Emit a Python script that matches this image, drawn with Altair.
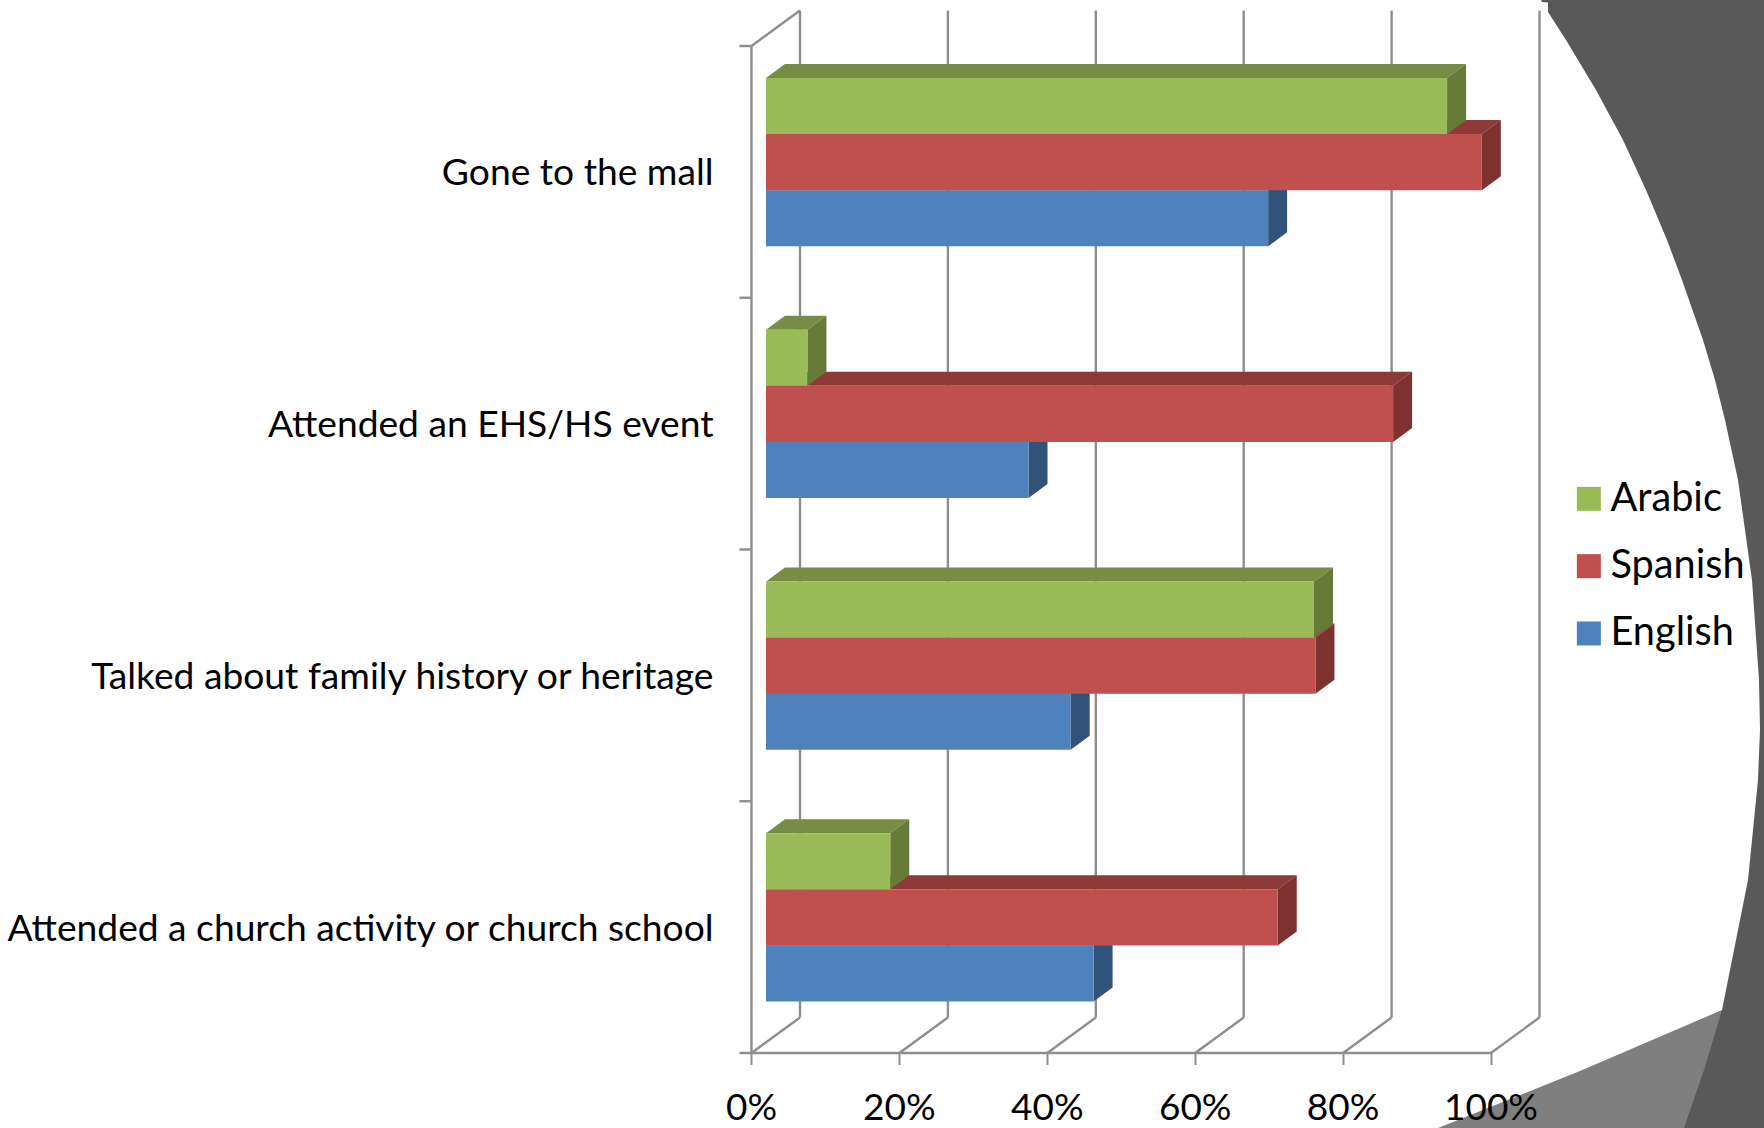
import json
import altair as alt
import pandas as pd

categories = [
    "Gone to the mall",
    "Attended an EHS/HS event",
    "Talked about family history or heritage",
    "Attended a church activity or church school",
]
arabic = [92.1, 5.6, 74.1, 16.8]
spanish = [96.8, 84.8, 74.3, 69.2]
english = [67.9, 35.5, 41.2, 44.3]
series_names = ["Arabic", "Spanish", "English"]
series_values = {"Arabic": arabic, "Spanish": spanish, "English": english}
front_colors = ["#9BBB59", "#C0504D", "#4F81BD"]
top_colors = {"Arabic": "#778D45", "Spanish": "#8E3A38", "English": "#3A5E8C"}
side_colors = {"Arabic": "#677B38", "Spanish": "#7E3230", "English": "#325379"}
x_ticks = [0, 20, 40, 60, 80, 100]

# Outline of the slide's dark side panel and lighter wedge, in canvas pixels.
panel_y = [0, 2, 2.5, 12, 40, 90, 140, 190, 240, 280, 340, 380, 420, 480, 580, 680, 730, 780, 880, 1010, 1070, 1128]
panel_x = [1541, 1542, 1548, 1548, 1566, 1596, 1623, 1646, 1667, 1682, 1703, 1715, 1725, 1738, 1752, 1759, 1760, 1758, 1748, 1722, 1704, 1684]
wedge_x = [1438, 1580, 1722, 1764]
wedge_y = [1128, 1071, 1010, 992]

CANVAS_W, CANVAS_H = 1764, 1128
LEFT, TOP = 751.5, 46.0
PLOT_W, PLOT_H = 739.5, 1007.0
PX_PER_PCT = PLOT_W / 100
PX_PER_BAND = PLOT_H / 4


def to_x(px):
    return (px - LEFT) / PX_PER_PCT


def to_y(py):
    return (py - TOP) / PX_PER_BAND


# Oblique projection used for the 3-D look, in data units.
WALL_DX, WALL_DY = 48.5 / PX_PER_PCT, 35.5 / PX_PER_BAND
BAR_DX, BAR_DY = 19 / PX_PER_PCT, 14 / PX_PER_BAND
BAR_START = 14.5 / PX_PER_PCT
BAR_GAP = 32 / PX_PER_BAND
BAR_H = 56.1 / PX_PER_BAND
TICK = 12 / PX_PER_PCT

front_rows, shade_rows = [], []
# Drawn back to front: English first, Arabic last.
for s_idx, name in reversed(list(enumerate(series_names))):
    for c_idx, value in enumerate(series_values[name]):
        y0 = c_idx + BAR_GAP + s_idx * BAR_H
        y1 = y0 + BAR_H
        x0, x1 = BAR_START, BAR_START + value
        front_rows.append(dict(series=name, x=x0, x2=x1, y=y0, y2=y1))
        face = f"{name}-{c_idx}-top"
        for px, top, bottom in [
            (x0, y0, y0),
            (x0 + BAR_DX, y0 - BAR_DY, y0),
            (x1, y0 - BAR_DY, y0),
            (x1 + BAR_DX, y0 - BAR_DY, y0 - BAR_DY),
        ]:
            shade_rows.append(dict(face=face, shade=top_colors[name], x=px, y=top, y2=bottom))
        face = f"{name}-{c_idx}-side"
        for px, top, bottom in [
            (x1, y0, y1),
            (x1 + BAR_DX, y0 - BAR_DY, y1 - BAR_DY),
        ]:
            shade_rows.append(dict(face=face, shade=side_colors[name], x=px, y=top, y2=bottom))

rule_rows = []
for t in x_ticks:
    # back-wall gridline and its run across the floor
    rule_rows.append(dict(x=t + WALL_DX, x2=t + WALL_DX, y=-WALL_DY, y2=4 - WALL_DY))
    rule_rows.append(dict(x=t, x2=t + WALL_DX, y=4, y2=4 - WALL_DY))
rule_rows.append(dict(x=0, x2=WALL_DX, y=0, y2=-WALL_DY))
for band in range(5):
    rule_rows.append(dict(x=-TICK, x2=0, y=band, y2=band))

panel = pd.DataFrame(dict(y=[to_y(v) for v in panel_y],
                          x=[to_x(v) for v in panel_x],
                          x2=to_x(CANVAS_W)))
wedge = pd.DataFrame(dict(x=[to_x(v) for v in wedge_x],
                          y=[to_y(v) for v in wedge_y],
                          y2=to_y(CANVAS_H)))

x_scale = alt.Scale(domain=[0, 100], nice=False, zero=False)
y_scale = alt.Scale(domain=[0, 4], reverse=True, nice=False, zero=False)
GREY = "#8E8E8E"
FONT = "Lato"

x_axis = alt.Axis(values=x_ticks, labelExpr="datum.value + '%'", grid=False, title=None,
                  tickSize=12, tickWidth=2, tickColor=GREY, domainColor=GREY, domainWidth=2.4,
                  labelFontSize=37, labelColor="black", labelPadding=26, labelFlush=False,
                  labelOverlap=False, zindex=1)
label_expr = f"{json.dumps(categories)}[floor(datum.value)]"
y_axis = alt.Axis(values=[i + 0.5 for i in range(len(categories))], labelExpr=label_expr,
                  grid=False, title=None, ticks=False, domainColor=GREY, domainWidth=2.4,
                  labelFontSize=37.2, labelColor="black", labelPadding=38, labelLimit=800,
                  labelOffset=2.5, zindex=1)

wedge_layer = alt.Chart(wedge).mark_area(color="#7F7F7F", orient="vertical").encode(
    x=alt.X("x:Q", scale=x_scale, axis=x_axis),
    y=alt.Y("y:Q", scale=y_scale, axis=y_axis, stack=None),
    y2="y2:Q",
)
panel_layer = alt.Chart(panel).mark_area(color="#595959", orient="horizontal").encode(
    x=alt.X("x:Q", scale=x_scale, stack=None),
    x2="x2:Q",
    y=alt.Y("y:Q", scale=y_scale),
)
rules = alt.Chart(pd.DataFrame(rule_rows)).mark_rule(color=GREY, strokeWidth=2.4).encode(
    x=alt.X("x:Q", scale=x_scale), x2="x2:Q",
    y=alt.Y("y:Q", scale=y_scale), y2="y2:Q",
)
shades = alt.Chart(pd.DataFrame(shade_rows)).mark_area(orient="vertical").encode(
    x=alt.X("x:Q", scale=x_scale),
    y=alt.Y("y:Q", scale=y_scale, stack=None),
    y2="y2:Q",
    detail="face:N",
    color=alt.Color("shade:N", scale=None),
)
legend = alt.Legend(title=None, orient="none", legendX=1569 - LEFT, legendY=479 - TOP,
                    symbolType="square", symbolSize=576, symbolStrokeWidth=0,
                    labelFontSize=39.7, labelColor="black", labelOffset=1.8, rowPadding=26.3,
                    labelFont=FONT)
fronts = alt.Chart(pd.DataFrame(front_rows)).mark_rect().encode(
    x=alt.X("x:Q", scale=x_scale), x2="x2:Q",
    y=alt.Y("y:Q", scale=y_scale), y2="y2:Q",
    color=alt.Color("series:N", legend=legend,
                    scale=alt.Scale(domain=series_names, range=front_colors)),
)

chart = (
    alt.layer(wedge_layer, panel_layer, rules, shades, fronts)
    .resolve_scale(color="independent")
    .properties(
        width=PLOT_W,
        height=PLOT_H,
        padding=dict(left=LEFT, top=TOP, right=CANVAS_W - LEFT - PLOT_W,
                     bottom=CANVAS_H - TOP - PLOT_H),
        autosize=alt.AutoSizeParams(type="none"),
        background="white",
    )
    .configure_view(stroke=None)
    .configure_axis(labelFont=FONT, translate=0)
)
chart.save("out.html", embed_options={"renderer": "svg", "actions": False})
